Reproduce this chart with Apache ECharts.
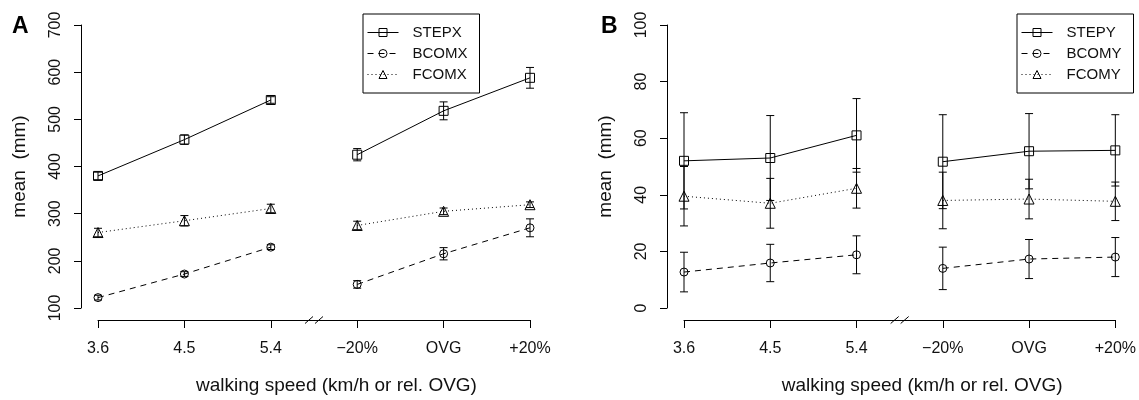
<!DOCTYPE html>
<html>
<head>
<meta charset="utf-8">
<script src="https://cdn.jsdelivr.net/npm/echarts@6/dist/echarts.min.js"></script>
<style>
html,body{margin:0;padding:0;background:#fff;}
#chart{width:1139px;height:400px;}
</style>
</head>
<body>
<div id="chart"></div>
<script>
// ---- data ----
const xLabels = ['3.6', '4.5', '5.4', '\u221220%', 'OVG', '+20%'];
const xTitle = 'walking speed (km/h or rel. OVG)';
const yTitle = 'mean  (mm)';

const stepX = [380, 457, 541, 425, 518, 588];
const stepXErr = [8, 10, 7, 13, 19, 22];
const bcomX = [122, 172, 229, 150, 215, 270];
const bcomXErr = [5, 5, 5, 8, 13, 19];
const fcomX = [260, 285, 311, 275, 305, 319];
const fcomXErr = [9, 11, 9, 9, 7, 6];

const stepY = [52, 53, 61, 51.7, 55.4, 55.7];
const stepYErr = [17, 15, 13, 16.6, 13.3, 12.6];
const bcomY = [12.7, 15.9, 18.8, 14, 17.3, 18];
const bcomYErr = [7, 6.6, 6.7, 7.5, 6.9, 6.9];
const fcomY = [39.5, 37, 42.3, 38, 38.5, 37.7];
const fcomYErr = [10.5, 8.8, 7, 10, 7, 6.8];

const yTicksA = {min: 100, max: 700, interval: 100};
const yTicksB = {min: 0, max: 100, interval: 20};

// ---- build ----
const FONT = "'Liberation Sans', Arial, Helvetica, sans-serif";
const TXT = '#111';
const X_OFFSET = 12;

const panels = [
  {letter: 'A', grid: {left: 98, top: 25, width: 432, height: 287}, y: yTicksA,
   groups: [
     {name: 'STEPX', mean: stepX, err: stepXErr, symbol: 'rect', size: 9, dash: 'solid'},
     {name: 'BCOMX', mean: bcomX, err: bcomXErr, symbol: 'circle', size: 8, dash: [6, 5]},
     {name: 'FCOMX', mean: fcomX, err: fcomXErr, symbol: 'triangle', size: 10, dash: [1, 3]}
   ], legendLeft: 363, letterLeft: 7},
  {letter: 'B', grid: {left: 684, top: 25, width: 432, height: 287.5}, y: yTicksB,
   groups: [
     {name: 'STEPY', mean: stepY, err: stepYErr, symbol: 'rect', size: 9, dash: 'solid'},
     {name: 'BCOMY', mean: bcomY, err: bcomYErr, symbol: 'circle', size: 8, dash: [6, 5]},
     {name: 'FCOMY', mean: fcomY, err: fcomYErr, symbol: 'triangle', size: 10, dash: [1, 3]}
   ], legendLeft: 1017, letterLeft: 596}
];

const grids = [], xAxes = [], yAxes = [], series = [], legends = [], titles = [];

panels.forEach((p, pi) => {
  grids.push(Object.assign({containLabel: false}, p.grid));
  xAxes.push({
    type: 'value', gridIndex: pi, min: 0, max: xLabels.length - 1, interval: 1,
    offset: X_OFFSET,
    name: xTitle, nameLocation: 'middle', nameGap: 56,
    nameTextStyle: {fontFamily: FONT, fontSize: 19, color: TXT, padding: [0, 0, 0, 45]},
    axisLine: {show: true, onZero: false, lineStyle: {color: '#000', width: 1}},
    axisTick: {show: true, length: 8, lineStyle: {color: '#000', width: 1}},
    axisLabel: {fontFamily: FONT, fontSize: 16, color: TXT, margin: 21,
      formatter: v => xLabels[v] !== undefined ? xLabels[v] : ''},
    splitLine: {show: false}
  });
  yAxes.push({
    type: 'value', gridIndex: pi, min: p.y.min, max: p.y.max, interval: p.y.interval,
    offset: 17,
    name: yTitle, nameLocation: 'middle', nameGap: 52, nameRotate: 90,
    nameTextStyle: {fontFamily: FONT, fontSize: 19, color: TXT},
    axisLine: {show: true, onZero: false, lineStyle: {color: '#000', width: 1}},
    axisTick: {show: true, length: 7, lineStyle: {color: '#000', width: 1}},
    axisLabel: {fontFamily: FONT, fontSize: 16, color: TXT, rotate: 90, margin: 17},
    splitLine: {show: false}
  });

  p.groups.forEach(g => {
    const lineCommon = {
      type: 'line', name: g.name, xAxisIndex: pi, yAxisIndex: pi,
      symbol: g.symbol, symbolSize: g.size, clip: false,
      lineStyle: {color: '#000', width: 1, type: g.dash},
      itemStyle: {color: 'rgba(255,255,255,0)', borderColor: '#000', borderWidth: 1},
      emphasis: {disabled: true}, z: 3
    };
    series.push(Object.assign({}, lineCommon, {
      data: g.mean.slice(0, 3).map((v, i) => [i, v])
    }));
    series.push(Object.assign({}, lineCommon, {
      data: g.mean.slice(3).map((v, i) => [i + 3, v])
    }));
    series.push({
      type: 'custom', xAxisIndex: pi, yAxisIndex: pi, clip: false, z: 2,
      encode: {x: 0, y: [1, 2]},
      data: g.mean.map((m, i) => [i, m - g.err[i], m + g.err[i]]),
      renderItem: (params, api) => {
        const x = api.value(0);
        const a = api.coord([x, api.value(1)]);
        const b = api.coord([x, api.value(2)]);
        const w = 4;
        const st = {stroke: '#000', lineWidth: 1};
        return {type: 'group', children: [
          {type: 'line', shape: {x1: a[0], y1: a[1], x2: b[0], y2: b[1]}, style: st},
          {type: 'line', shape: {x1: a[0] - w, y1: a[1], x2: a[0] + w, y2: a[1]}, style: st},
          {type: 'line', shape: {x1: b[0] - w, y1: b[1], x2: b[0] + w, y2: b[1]}, style: st}
        ]};
      }
    });
  });

  // axis break marker between the two groups of conditions
  series.push({
    type: 'custom', xAxisIndex: pi, yAxisIndex: pi, clip: false, silent: true, z: 5,
    data: [[2.5]],
    encode: {x: 0},
    renderItem: (params, api) => {
      const cs = params.coordSys;
      const c = api.coord([api.value(0), p.y.min]);
      const y = cs.y + cs.height + X_OFFSET;
      const st = {stroke: '#000', lineWidth: 1};
      return {type: 'group', children: [
        {type: 'line', shape: {x1: c[0] - 9, y1: y + 3.5, x2: c[0] - 1, y2: y - 3.5}, style: st},
        {type: 'line', shape: {x1: c[0] + 1, y1: y + 3.5, x2: c[0] + 9, y2: y - 3.5}, style: st}
      ]};
    }
  });

  legends.push({
    show: true, orient: 'vertical', left: p.legendLeft, top: 14,
    data: p.groups.map(g => g.name),
    backgroundColor: '#fff', borderColor: '#000', borderWidth: 1, borderRadius: 0,
    padding: [11, 12, 11, 4], itemGap: 6, itemWidth: 31, itemHeight: 10,
    selectedMode: false,
    textStyle: {fontFamily: FONT, fontSize: 15, color: TXT, lineHeight: 14, padding: [0, 0, 0, 9]},
    itemStyle: {color: 'rgba(255,255,255,0)', borderColor: '#000', borderWidth: 1},
    lineStyle: {color: '#000', width: 1}
  });

  titles.push({
    text: p.letter, left: p.letterLeft, top: 10,
    textStyle: {fontFamily: FONT, fontSize: 23, fontWeight: 'bold', color: '#000'}
  });
});

const chart = echarts.init(document.getElementById('chart'), null, {renderer: 'canvas'});
chart.setOption({
  animation: false,
  backgroundColor: '#fff',
  title: titles,
  grid: grids,
  xAxis: xAxes,
  yAxis: yAxes,
  legend: legends,
  series: series
});
</script>
</body>
</html>
